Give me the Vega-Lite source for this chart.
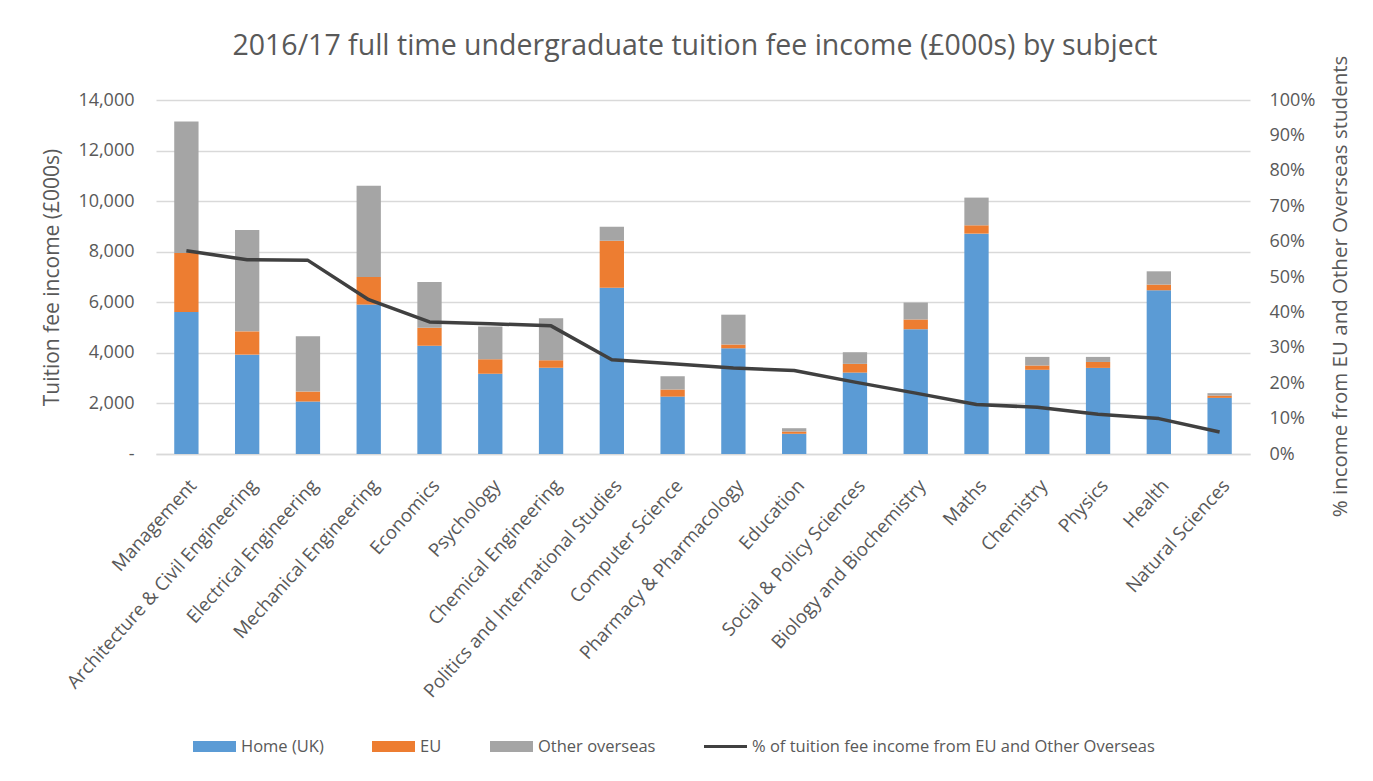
{
  "$schema": "https://vega.github.io/schema/vega-lite/v6.json",
  "autosize": "none",
  "width": 1094,
  "height": 354,
  "padding": {"left": 156, "top": 100, "right": 123, "bottom": 327},
  "background": "white",
  "title": {
    "text": "2016/17 full time undergraduate tuition fee income (£000s) by subject",
    "font": "Open Sans",
    "fontSize": 28.5,
    "fontWeight": "normal",
    "color": "#595959",
    "anchor": "middle",
    "frame": "group",
    "baseline": "alphabetic",
    "offset": 0,
    "dy": 28,
    "dx": -8
  },
  "datasets": {
    "fees": [
      {"subject": "Management", "source": "Home (UK)", "fee": 5620},
      {"subject": "Management", "source": "EU", "fee": 2330},
      {"subject": "Management", "source": "Other overseas", "fee": 5200},
      {"subject": "Architecture & Civil Engineering", "source": "Home (UK)", "fee": 3930},
      {"subject": "Architecture & Civil Engineering", "source": "EU", "fee": 920},
      {"subject": "Architecture & Civil Engineering", "source": "Other overseas", "fee": 4010},
      {"subject": "Electrical Engineering", "source": "Home (UK)", "fee": 2075},
      {"subject": "Electrical Engineering", "source": "EU", "fee": 395},
      {"subject": "Electrical Engineering", "source": "Other overseas", "fee": 2190},
      {"subject": "Mechanical Engineering", "source": "Home (UK)", "fee": 5910},
      {"subject": "Mechanical Engineering", "source": "EU", "fee": 1090},
      {"subject": "Mechanical Engineering", "source": "Other overseas", "fee": 3610},
      {"subject": "Economics", "source": "Home (UK)", "fee": 4280},
      {"subject": "Economics", "source": "EU", "fee": 710},
      {"subject": "Economics", "source": "Other overseas", "fee": 1810},
      {"subject": "Psychology", "source": "Home (UK)", "fee": 3170},
      {"subject": "Psychology", "source": "EU", "fee": 580},
      {"subject": "Psychology", "source": "Other overseas", "fee": 1290},
      {"subject": "Chemical Engineering", "source": "Home (UK)", "fee": 3410},
      {"subject": "Chemical Engineering", "source": "EU", "fee": 300},
      {"subject": "Chemical Engineering", "source": "Other overseas", "fee": 1660},
      {"subject": "Politics and International Studies", "source": "Home (UK)", "fee": 6570},
      {"subject": "Politics and International Studies", "source": "EU", "fee": 1860},
      {"subject": "Politics and International Studies", "source": "Other overseas", "fee": 560},
      {"subject": "Computer Science", "source": "Home (UK)", "fee": 2270},
      {"subject": "Computer Science", "source": "EU", "fee": 280},
      {"subject": "Computer Science", "source": "Other overseas", "fee": 525},
      {"subject": "Pharmacy & Pharmacology", "source": "Home (UK)", "fee": 4180},
      {"subject": "Pharmacy & Pharmacology", "source": "EU", "fee": 150},
      {"subject": "Pharmacy & Pharmacology", "source": "Other overseas", "fee": 1180},
      {"subject": "Education", "source": "Home (UK)", "fee": 800},
      {"subject": "Education", "source": "EU", "fee": 90},
      {"subject": "Education", "source": "Other overseas", "fee": 130},
      {"subject": "Social & Policy Sciences", "source": "Home (UK)", "fee": 3220},
      {"subject": "Social & Policy Sciences", "source": "EU", "fee": 345},
      {"subject": "Social & Policy Sciences", "source": "Other overseas", "fee": 460},
      {"subject": "Biology and Biochemistry", "source": "Home (UK)", "fee": 4935},
      {"subject": "Biology and Biochemistry", "source": "EU", "fee": 385},
      {"subject": "Biology and Biochemistry", "source": "Other overseas", "fee": 670},
      {"subject": "Maths", "source": "Home (UK)", "fee": 8715},
      {"subject": "Maths", "source": "EU", "fee": 330},
      {"subject": "Maths", "source": "Other overseas", "fee": 1095},
      {"subject": "Chemistry", "source": "Home (UK)", "fee": 3330},
      {"subject": "Chemistry", "source": "EU", "fee": 170},
      {"subject": "Chemistry", "source": "Other overseas", "fee": 340},
      {"subject": "Physics", "source": "Home (UK)", "fee": 3405},
      {"subject": "Physics", "source": "EU", "fee": 235},
      {"subject": "Physics", "source": "Other overseas", "fee": 200},
      {"subject": "Health", "source": "Home (UK)", "fee": 6475},
      {"subject": "Health", "source": "EU", "fee": 225},
      {"subject": "Health", "source": "Other overseas", "fee": 525},
      {"subject": "Natural Sciences", "source": "Home (UK)", "fee": 2220},
      {"subject": "Natural Sciences", "source": "EU", "fee": 90},
      {"subject": "Natural Sciences", "source": "Other overseas", "fee": 95}
    ],
    "share": [
      {"subject": "Management", "pct": 0.574},
      {"subject": "Architecture & Civil Engineering", "pct": 0.549},
      {"subject": "Electrical Engineering", "pct": 0.547},
      {"subject": "Mechanical Engineering", "pct": 0.436},
      {"subject": "Economics", "pct": 0.373},
      {"subject": "Psychology", "pct": 0.368},
      {"subject": "Chemical Engineering", "pct": 0.362},
      {"subject": "Politics and International Studies", "pct": 0.266},
      {"subject": "Computer Science", "pct": 0.255},
      {"subject": "Pharmacy & Pharmacology", "pct": 0.243},
      {"subject": "Education", "pct": 0.236},
      {"subject": "Social & Policy Sciences", "pct": 0.203},
      {"subject": "Biology and Biochemistry", "pct": 0.172},
      {"subject": "Maths", "pct": 0.140},
      {"subject": "Chemistry", "pct": 0.132},
      {"subject": "Physics", "pct": 0.112},
      {"subject": "Health", "pct": 0.100},
      {"subject": "Natural Sciences", "pct": 0.062}
    ]
  },
  "encoding": {
    "x": {
      "field": "subject",
      "type": "nominal",
      "sort": null,
      "scale": {"paddingInner": 0.6, "paddingOuter": 0.3},
      "axis": {
        "title": null,
        "labelAngle": -48,
        "labelAlign": "right",
        "labelBaseline": "top",
        "labelPadding": 22,
        "labelFont": "Open Sans",
        "labelFontSize": 18.7,
        "labelColor": "#595959",
        "ticks": false,
        "domain": true,
        "domainColor": "#d9d9d9",
        "domainWidth": 1.5,
        "labelOverlap": false,
        "labelLimit": 0
      }
    }
  },
  "layer": [
    {
      "data": {"name": "fees"},
      "transform": [
        {"calculate": "indexof(['Home (UK)', 'EU', 'Other overseas'], datum.source)", "as": "stackRank"}
      ],
      "mark": {"type": "bar"},
      "encoding": {
        "y": {
          "field": "fee",
          "type": "quantitative",
          "stack": "zero",
          "scale": {"domain": [0, 14000], "nice": false},
          "axis": {
            "title": "Tuition fee income (£000s)",
            "values": [0, 2000, 4000, 6000, 8000, 10000, 12000, 14000],
            "labelExpr": "datum.value === 0 ? '-' : format(datum.value, ',')",
            "grid": true,
            "gridColor": "#d9d9d9",
            "gridWidth": 1.5,
            "domain": false,
            "ticks": false,
            "labelPadding": 22,
            "labelFont": "Open Sans",
            "labelFontSize": 18,
            "labelColor": "#595959",
            "titleFont": "Open Sans",
            "titleFontSize": 21,
            "titleFontWeight": "normal",
            "titleColor": "#595959",
            "titleAngle": -90,
            "titleBaseline": "middle",
            "titleAlign": "center",
            "titleX": -104,
            "titleY": 177
          }
        },
        "order": {"field": "stackRank", "type": "quantitative", "sort": "ascending"},
        "color": {
          "field": "source",
          "type": "nominal",
          "sort": ["Home (UK)", "EU", "Other overseas"],
          "scale": {
            "domain": ["Home (UK)", "EU", "Other overseas", "% of tuition fee income from EU and Other Overseas"],
            "range": ["#5b9bd5", "#ed7d31", "#a5a5a5", "#404040"]
          },
          "legend": {
            "title": null,
            "orient": "none",
            "legendX": 37,
            "legendY": 625,
            "direction": "horizontal",
            "columns": 4,
            "columnPadding": 48,
            "labelFont": "Open Sans",
            "labelFontSize": 16.5,
            "labelColor": "#595959",
            "labelOffset": 5,
            "labelLimit": 0,
            "symbolSize": 1849,
            "encode": {
              "symbols": {
                "update": {
                  "shape": {"signal": "datum.value === '% of tuition fee income from EU and Other Overseas' ? 'M-1,-0.075H1V0.075H-1Z' : 'M-1,-0.26H1V0.26H-1Z'"},
                  "size": {"value": 1849},
                  "fill": {"scale": "color", "field": "value"},
                  "strokeWidth": {"value": 0},
                  "opacity": {"value": 1},
                  "fillOpacity": {"value": 1}
                }
              }
            }
          }
        }
      }
    },
    {
      "data": {"name": "share"},
      "mark": {"type": "line", "strokeWidth": 3.5, "strokeJoin": "round"},
      "encoding": {
        "y": {
          "field": "pct",
          "type": "quantitative",
          "scale": {"domain": [0, 1], "nice": false},
          "axis": {
            "orient": "right",
            "title": "% income from EU and Other Overseas students",
            "values": [0, 0.1, 0.2, 0.3, 0.4, 0.5, 0.6, 0.7, 0.8, 0.9, 1],
            "format": ".0%",
            "grid": false,
            "domain": false,
            "ticks": false,
            "labelPadding": 19,
            "labelAlign": "left",
            "labelFont": "Open Sans",
            "labelFontSize": 18,
            "labelColor": "#595959",
            "titleFont": "Open Sans",
            "titleFontSize": 20.5,
            "titleFontWeight": "normal",
            "titleColor": "#595959",
            "titleAngle": -90,
            "titleBaseline": "middle",
            "titleAlign": "center",
            "titleX": 90,
            "titleY": 186
          }
        },
        "color": {"datum": "% of tuition fee income from EU and Other Overseas"}
      }
    }
  ],
  "resolve": {"scale": {"y": "independent"}},
  "config": {"view": {"stroke": null}}
}
